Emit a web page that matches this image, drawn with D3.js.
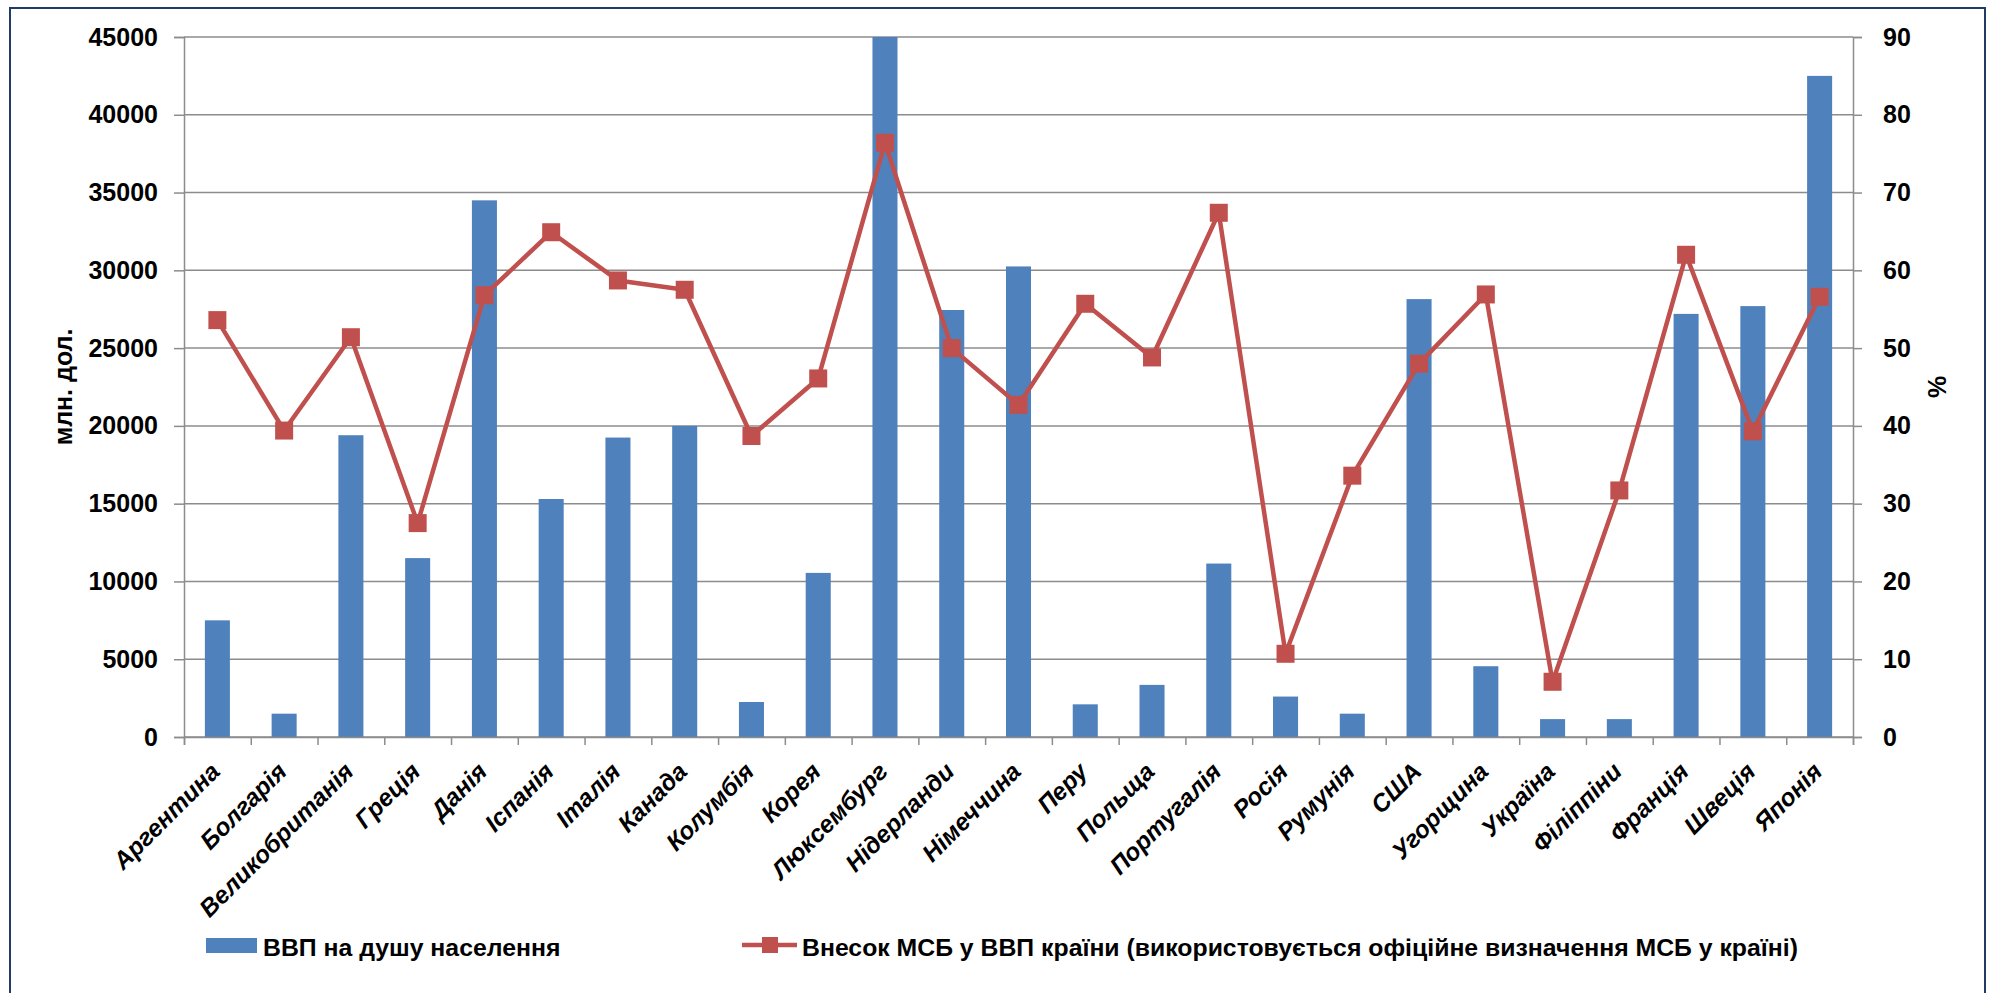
<!DOCTYPE html>
<html>
<head>
<meta charset="utf-8">
<script src="https://cdn.jsdelivr.net/npm/d3@7"></script>
<style>
  body { margin: 0; background: #fff; }
  text { font-family: "Liberation Sans", Arial, sans-serif; font-weight: bold; fill: #000; }
</style>
</head>
<body>
<svg id="chart" width="1995" height="993"></svg>
<script>
// Countries along the category axis
const countries = [
  "Аргентина", "Болгарія", "Великобританія", "Греція", "Данія", "Іспанія",
  "Італія", "Канада", "Колумбія", "Корея", "Люксембург", "Нідерланди",
  "Німеччина", "Перу", "Польща", "Португалія", "Росія", "Румунія", "США",
  "Угорщина", "Україна", "Філіппіни", "Франція", "Швеція", "Японія"
];

// GDP per capita (left axis)
const gdpPerCapita = [
  7500, 1500, 19400, 11500, 34500, 15300,
  19250, 20000, 2250, 10550, 45000, 27450,
  30250, 2100, 3350, 11150, 2600, 1500, 28150,
  4550, 1150, 1150, 27200, 27700, 42500
];

// SME share of GDP, % (right axis)
const smeShare = [
  53.6, 39.4, 51.4, 27.5, 56.8, 64.9,
  58.7, 57.5, 38.7, 46.1, 76.4, 50.0,
  42.7, 55.7, 48.8, 67.4, 10.7, 33.6, 48.0,
  56.9, 7.1, 31.7, 62.0, 39.3, 56.6
];

const leftTicks = [0, 5000, 10000, 15000, 20000, 25000, 30000, 35000, 40000, 45000];
const rightTicks = [0, 10, 20, 30, 40, 50, 60, 70, 80, 90];

const leftTitle = "млн. дол.";
const rightTitle = "%";
const barLegend = "ВВП на душу населення";
const lineLegend = "Внесок МСБ у ВВП країни (використовується офіційне визначення МСБ у країні)";

const barColor = "#4F81BD";
const lineColor = "#C0504D";
const gridColor = "#8C8C8C";

const plot = { left: 184, right: 1853, top: 37, bottom: 737 };

const svg = d3.select("#chart");

// chart frame
svg.append("rect")
  .attr("x", 10).attr("y", 8)
  .attr("width", 1975).attr("height", 1000)
  .attr("fill", "#fff")
  .attr("stroke", "#1F3B66").attr("stroke-width", 2);

const x = d3.scaleBand()
  .domain(countries)
  .range([plot.left, plot.right])
  .paddingInner(0.625)
  .paddingOuter(0.3125);

const xEdges = d3.scaleLinear().domain([0, countries.length]).range([plot.left, plot.right]);

const yLeft = d3.scaleLinear().domain([0, 45000]).range([plot.bottom, plot.top]);
const yRight = d3.scaleLinear().domain([0, 90]).range([plot.bottom, plot.top]);

// horizontal gridlines
svg.append("g")
  .selectAll("line")
  .data(leftTicks)
  .join("line")
  .attr("x1", plot.left).attr("x2", plot.right)
  .attr("y1", d => yLeft(d)).attr("y2", d => yLeft(d))
  .attr("stroke", gridColor).attr("stroke-width", 1.5);

// left axis
const gLeft = svg.append("g")
  .attr("transform", `translate(${plot.left},0)`)
  .call(d3.axisLeft(yLeft).tickValues(leftTicks).tickFormat(d3.format("d")).tickSize(10).tickPadding(16));

// right axis
const gRight = svg.append("g")
  .attr("transform", `translate(${plot.right},0)`)
  .call(d3.axisRight(yRight).tickValues(rightTicks).tickFormat(d3.format("d")).tickSize(9).tickPadding(21));

[gLeft, gRight].forEach(g => {
  g.select(".domain").attr("stroke", gridColor).attr("stroke-width", 1.5);
  g.selectAll(".tick line").attr("stroke", gridColor).attr("stroke-width", 1.5);
  g.selectAll(".tick text")
    .attr("font-size", 25)
    .attr("font-family", "Liberation Sans, Arial, sans-serif")
    .attr("font-weight", "bold")
    .attr("fill", "#000");
});

// bars
svg.append("g")
  .selectAll("rect")
  .data(countries)
  .join("rect")
  .attr("x", d => x(d))
  .attr("width", x.bandwidth())
  .attr("y", (d, i) => yLeft(gdpPerCapita[i]))
  .attr("height", (d, i) => yLeft(0) - yLeft(gdpPerCapita[i]))
  .attr("fill", barColor);

// category axis
const gBottom = svg.append("g")
  .attr("transform", `translate(0,${plot.bottom})`)
  .call(d3.axisBottom(xEdges).tickValues(d3.range(countries.length + 1)).tickSize(8).tickFormat(""));
gBottom.select(".domain").attr("stroke", gridColor).attr("stroke-width", 1.5);
gBottom.selectAll(".tick line").attr("stroke", gridColor).attr("stroke-width", 1.5);

svg.append("g")
  .selectAll("text")
  .data(countries)
  .join("text")
  .attr("transform", d => `translate(${x(d) + x.bandwidth() / 2 + 4},${plot.bottom + 36}) rotate(-45)`)
  .attr("text-anchor", "end")
  .attr("font-size", 24.5)
  .attr("font-style", "italic")
  .text(d => d);

// SME share line
const cx = d => x(d) + x.bandwidth() / 2;
const line = d3.line()
  .x((d, i) => cx(countries[i]))
  .y(d => yRight(d));

svg.append("path")
  .datum(smeShare)
  .attr("d", line)
  .attr("fill", "none")
  .attr("stroke", lineColor)
  .attr("stroke-width", 4.5)
  .attr("stroke-linejoin", "round");

const markerSize = 18;
svg.append("g")
  .selectAll("rect")
  .data(smeShare)
  .join("rect")
  .attr("x", (d, i) => cx(countries[i]) - markerSize / 2)
  .attr("y", d => yRight(d) - markerSize / 2)
  .attr("width", markerSize).attr("height", markerSize)
  .attr("fill", lineColor);

// axis titles
svg.append("text")
  .attr("transform", `translate(72,${(plot.top + plot.bottom) / 2}) rotate(-90)`)
  .attr("text-anchor", "middle")
  .attr("font-size", 25)
  .text(leftTitle);

svg.append("text")
  .attr("transform", `translate(1946,${(plot.top + plot.bottom) / 2}) rotate(-90)`)
  .attr("text-anchor", "middle")
  .attr("font-size", 25)
  .text(rightTitle);

// legend
const legend = svg.append("g");
legend.append("rect")
  .attr("x", 206).attr("y", 938).attr("width", 51).attr("height", 15)
  .attr("fill", barColor);
legend.append("text")
  .attr("x", 263).attr("y", 956)
  .attr("font-size", 24.8)
  .text(barLegend);

legend.append("line")
  .attr("x1", 742).attr("x2", 797).attr("y1", 945).attr("y2", 945)
  .attr("stroke", lineColor).attr("stroke-width", 4.5);
legend.append("rect")
  .attr("x", 770 - 8).attr("y", 945 - 8).attr("width", 16).attr("height", 16)
  .attr("fill", lineColor);
legend.append("text")
  .attr("x", 802).attr("y", 956)
  .attr("font-size", 24.8)
  .text(lineLegend);
</script>
</body>
</html>
